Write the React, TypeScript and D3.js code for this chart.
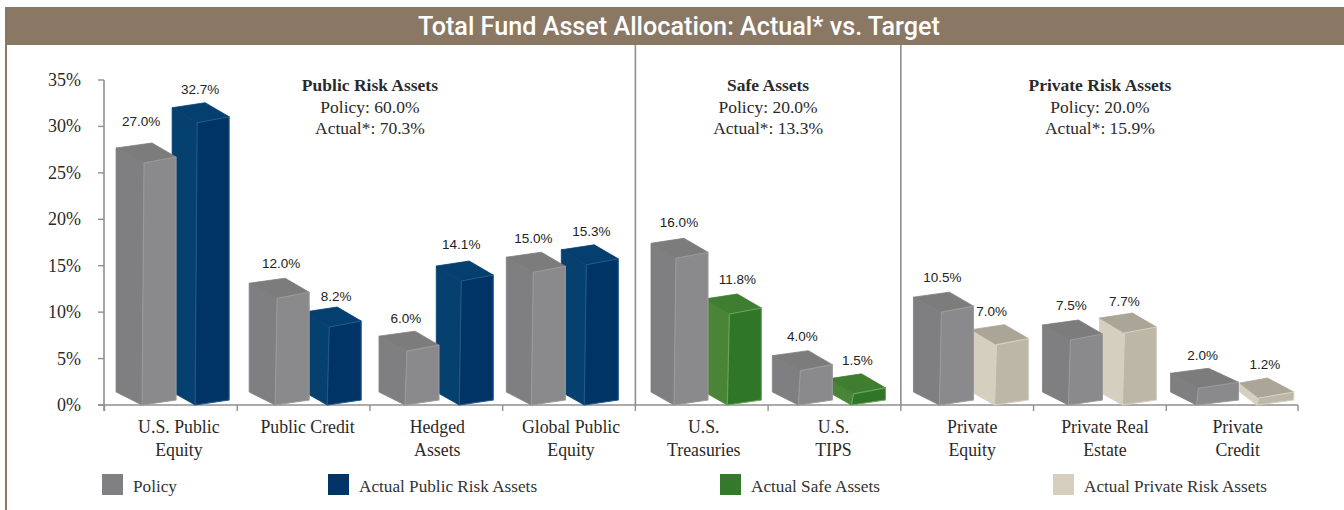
import React from "react";
import * as d3 from "d3";

const title = "Total Fund Asset Allocation: Actual* vs. Target";
const categories = ["U.S. Public|Equity", "Public Credit", "Hedged|Assets", "Global Public|Equity", "U.S.|Treasuries", "U.S.|TIPS", "Private|Equity", "Private Real|Estate", "Private|Credit"];
const yTicks = [0, 5, 10, 15, 20, 25, 30, 35];

// Printed values
const policyValues = [27.0, 12.0, 6.0, 15.0, 16.0, 4.0, 10.5, 7.5, 2.0];
const actualValues = [32.7, 8.2, 14.1, 15.3, 11.8, 1.5, 7.0, 7.7, 1.2];
// Bar heights as they read against the axis (the printed 3-D bars are not exactly to scale)
const policyLevels = [26.06, 11.5, 5.8, 14.3, 15.8, 3.7, 10.0, 7.0, 1.8];
const actualLevels = [30.4, 8.4, 13.35, 15.1, 9.8, 1.2, 6.5, 7.75, 0.75];
const actualGroup = [0, 0, 0, 0, 1, 1, 2, 2, 2];

// Dodge of each bar's front edge inside its band (fraction of band)
const policyDodge = [0.298, 0.301, 0.279, 0.231, 0.306, 0.243, 0.306, 0.278, 0.243];
const actualDodge = [0.698, 0.693, 0.688, 0.63, 0.708, 0.643, 0.721, 0.685, 0.697];
// Face widths of the bars that were drawn wider or narrower in the source
const policyFrontWidth = [32, 32, 32, 32, 32, 32, 32, 32, 40];
const policySideWidth = [28, 28, 28, 27, 25, 28, 28, 28, 28];
const actualFrontWidth = [32, 32, 32, 32, 32, 32, 32, 32, 35];
const actualSideWidth = [25, 25, 25, 25, 25, 25, 25, 25, 19];
const labelNudgeX = [-3, 4, -1, 0, 3, 2, 1, 1, 4];
const labelNudgeY = [-6, 1, 3, 2, 0, 1, 1, 1, 3];
const actualLabelNudgeX = [3, 7, 0, 5, 8, 4, -5, 0, 6];
const actualLabelNudgeY = [1, 3, -3, 1, -1, 1, 1, 2, 0];
const categoryNudge = [8, 4, 1, 2, 2, -1, 5, 5, 5];

const groupHeads = ["Public Risk Assets", "Safe Assets", "Private Risk Assets"];
const groupPolicy = ["Policy: 60.0%", "Policy: 20.0%", "Policy: 20.0%"];
const groupActual = ["Actual*: 70.3%", "Actual*: 13.3%", "Actual*: 15.9%"];
const groupSpans = [[0, 3], [4, 5], [6, 8]];
const legendLabels = ["Policy", "Actual Public Risk Assets", "Actual Safe Assets", "Actual Private Risk Assets"];

const BROWN = "#8a7865";
const AXIS = "#8f8f8f";
const SERIF = "'Liberation Serif', serif";
const SANS = "'Liberation Sans', Arial, sans-serif";
const policyFaces = { side: "#7f7f81", front: "#8a8a8d", top: "#7c7c7d", edge: "#9a9a9c" };
const actualFaces = [
  { side: "#06406f", front: "#003366", top: "#053f70", edge: "#1d5a8a" },
  { side: "#4a8537", front: "#2f7727", top: "#3f7d30", edge: "#6aa45a" },
  { side: "#d5cfc0", front: "#bdb7a7", top: "#aaa596", edge: "#d5d0c2" },
];
const legendColors = ["#808083", "#003366", "#357a2c", "#d6cfc0"];

const x = d3.scaleBand<string>().domain(categories).range([104.5, 1299]);
const y = d3.scaleLinear().domain([0, 35]).range([405, 80]);

function Box({ fx, level, faces, side, width }: any) {
  const fy = y(level);
  const by = y(0);
  const line = d3.line();
  const left: [number, number][] = [[fx - side, fy - 15], [fx, fy], [fx - 2, by], [fx - side, by - 13]];
  const front: [number, number][] = [[fx, fy], [fx + width, fy - 6], [fx + width, by - 5], [fx - 2, by]];
  const top: [number, number][] = [[fx - side, fy - 15], [fx + width / 4, fy - 20], [fx + width, fy - 6], [fx, fy]];
  return (
    <g strokeLinejoin="round">
      <path d={line(left)! + "Z"} fill={faces.side} stroke={faces.side} strokeWidth={0.8} />
      <path d={line(top)! + "Z"} fill={faces.top} stroke={faces.top} strokeWidth={0.8} />
      <path d={line(front)! + "Z"} fill={faces.front} stroke={faces.edge} strokeWidth={1.1} />
    </g>
  );
}

export default function App() {
  const band = x.bandwidth();
  const cx = (c: string) => x(c)!;
  const rows = categories.map((c, i) => ({
    c, i,
    pfx: cx(c) + band * policyDodge[i],
    afx: cx(c) + band * actualDodge[i],
  }));
  return (
    <svg width={1344} height={510} viewBox="0 0 1344 510" style={{ position: "absolute", left: 0, top: 0, background: "#fff" }}>
      <rect x={5} y={7} width={1339} height={38} fill={BROWN} />
      <rect x={5} y={45} width={2} height={465} fill={BROWN} />
      <text x={679} y={34.5} textAnchor="middle" fill="#fff" fontFamily="Roboto, sans-serif" fontWeight={500} fontSize={25.2}>{title}</text>

      {/* dividers */}
      {[4, 6].map((i) => (
        <line key={i} x1={x(categories[i])!} x2={x(categories[i])!} y1={45} y2={405} stroke={AXIS} strokeWidth={1.6} />
      ))}

      {/* axes */}
      <line x1={104} x2={104} y1={y(35)} y2={y(0) + 6} stroke={AXIS} strokeWidth={1.6} />
      <line x1={98} x2={1298} y1={y(0)} y2={y(0)} stroke={AXIS} strokeWidth={1.6} />
      {yTicks.map((t) => (
        <g key={t}>
          <line x1={98} x2={104} y1={y(t)} y2={y(t)} stroke={AXIS} strokeWidth={1.4} />
          <text x={81} y={y(t) + 6} textAnchor="end" fontFamily={SERIF} fontSize={18} fill="#2a2a2a">{t}%</text>
        </g>
      ))}
      {[...categories.map((c) => x(c)!), 1298].map((t) => (
        <line key={t} x1={t} x2={t} y1={y(0)} y2={y(0) + 6} stroke={AXIS} strokeWidth={1.4} />
      ))}

      {/* bars: actual sits behind policy */}
      {rows.map(({ c, i, afx }) => (
        <Box key={c} fx={afx} level={actualLevels[i]} faces={actualFaces[actualGroup[i]]} side={actualSideWidth[i]} width={actualFrontWidth[i]} />
      ))}
      {rows.map(({ c, i, pfx }) => (
        <Box key={c} fx={pfx} level={policyLevels[i]} faces={policyFaces} side={policySideWidth[i]} width={policyFrontWidth[i]} />
      ))}

      {/* value labels */}
      {rows.map(({ c, i, pfx, afx }) => (
        <g key={c} fontFamily={SANS} fontSize={13.5} fill="#222" textAnchor="middle">
          <text x={pfx + labelNudgeX[i]} y={y(policyLevels[i]) - 31 + labelNudgeY[i]}>{policyValues[i].toFixed(1)}%</text>
          <text x={afx + actualLabelNudgeX[i]} y={y(actualLevels[i]) - 29.5 + actualLabelNudgeY[i]}>{actualValues[i].toFixed(1)}%</text>
        </g>
      ))}

      {/* category labels */}
      {rows.map(({ c, i }) => (
        <text key={c} textAnchor="middle" fontFamily={SERIF} fontSize={17.8} fill="#2a2a2a">
          {c.split("|").map((part, k) => (
            <tspan key={k} x={cx(c) + band / 2 + categoryNudge[i]} y={433 + k * 22.5}>{part}</tspan>
          ))}
        </text>
      ))}

      {/* group headers */}
      {groupHeads.map((h, i) => {
        const [a, b] = groupSpans[i];
        const mid = (x(categories[a])! + x(categories[b])! + band) / 2;
        return (
          <text key={h} textAnchor="middle" fontFamily={SERIF} fontSize={17.5} fill="#2a2a2a">
            <tspan x={mid} y={91} fontWeight="bold">{h}</tspan>
            <tspan x={mid} y={113}>{groupPolicy[i]}</tspan>
            <tspan x={mid} y={134}>{groupActual[i]}</tspan>
          </text>
        );
      })}

      {/* legend */}
      {legendLabels.map((l, i) => {
        const lx = [102, 328, 720, 1053][i];
        return (
          <g key={l}>
            <rect x={lx} y={474} width={21} height={21} fill={legendColors[i]} />
            <text x={lx + 31} y={492} fontFamily={SERIF} fontSize={17.2} fill="#333">{l}</text>
          </g>
        );
      })}
    </svg>
  );
}
